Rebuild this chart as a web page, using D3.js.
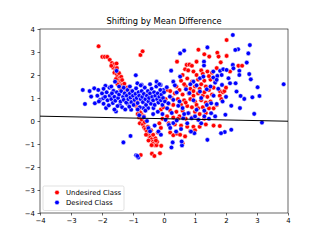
<!DOCTYPE html>
<html>
<head>
<meta charset="utf-8">
<script src="https://cdn.jsdelivr.net/npm/d3@7"></script>
<style>
  body { margin: 0; background: #fff; }
  svg { display: block; font-family: "DejaVu Sans", sans-serif; }
</style>
</head>
<body>
<svg id="chart" width="320" height="240"></svg>
<script>
// chart data
var title = 'Shifting by Mean Difference';
var xTicks = [-4, -3, -2, -1, 0, 1, 2, 3, 4];
var yTicks = [-4, -3, -2, -1, 0, 1, 2, 3, 4];
var seriesNames = ['Undesired Class', 'Desired Class'];
var seriesColors = ['#ff0000', '#0000ff'];

// boundary line end points
var boundaryLine = [[-4, 0.21], [4, -0.01]];

var undesiredPts = [
  // upper left arm
  [-2.11,3.25],[-1.99,2.79],[-1.91,2.79],[-1.83,2.79],[-1.75,2.66],[-1.68,2.52],[-1.6,2.47],[-1.53,2.5],
  [-1.64,2.32],[-1.57,2.2],[-1.6,2.1],[-1.52,2.02],[-1.5,1.92],[-1.45,1.85],[-1.47,1.75],[-1.4,1.7],
  [-1.42,1.6],[-1.36,1.55],[-1.3,1.5],[-1.33,1.42],[-1.25,1.35],[-1.2,1.25],[-1.15,1.15],[-1.1,1.05],
  [-1.05,0.95],[-1.0,0.85],[-0.95,0.75],[-0.9,0.65],[-0.85,0.55],[-0.8,0.45],[-0.75,0.35],[-0.7,0.25],
  [-0.76,2.87],[-0.69,3.03],[-1.26,1.43],[-0.5,1.2],[-0.2,0.9],[-0.85,0.3],[-0.65,0.2],
  [-1.7,2.4],[-1.52,2.3],[-1.45,2.08],[-1.38,1.92],[-1.55,1.82],[-1.35,1.78],[-1.28,1.62],[-1.5,1.6],
  [-1.18,1.45],[-1.4,1.38],[-1.12,1.3],[-0.98,1.05],[-0.9,0.9],
  // lower arm
  [-0.8,0.15],[-0.72,0.05],[-0.78,-0.1],[-0.68,-0.15],[-0.64,-0.28],[-0.6,-0.35],[-0.55,-0.45],[-0.5,-0.55],
  [-0.48,-0.65],[-0.44,-0.72],[-0.4,-0.8],[-0.36,-0.9],[-0.34,-0.98],[-0.3,-1.05],[-0.24,-1.05],[-0.22,-0.9],
  [-0.28,-0.75],[-0.09,-1.08],[-0.39,-1.42],[-0.31,-1.52],[-0.13,-1.4],[-0.75,-1.48],[-0.2,-0.5],[-0.1,-0.3],
  [-0.15,-0.1],[-0.05,0.1],[-0.1,0.5],[-0.02,0.6],
  [-0.62,-0.05],[-0.52,-0.25],[-0.42,-0.4],[-0.58,-0.6],[-0.35,-0.6],[-0.5,-0.85],[-0.26,-0.85],[-0.4,-1.05],
  // right cluster
  [0.42,2.58],[0.73,2.44],[0.82,2.45],[0.9,2.4],[1.05,2.58],[1.11,3.1],[1.3,2.9],[1.46,2.8],[1.72,2.97],
  [1.76,2.8],[1.83,2.55],[2.02,3.52],[2.02,2.83],[2.4,2.4],[2.52,2.4],[2.13,2.15],[0.68,2.25],[0.78,2.2],
  [0.95,2.15],[1.2,2.2],[1.4,2.15],[1.55,2.1],[1.25,2.05],[1.05,2.0],[0.6,2.0],[0.55,1.75],[0.75,1.85],
  [0.9,1.7],[1.1,1.8],[1.3,1.75],[1.5,1.8],[1.65,1.7],[0.4,1.5],[0.5,1.35],[0.7,1.5],[0.85,1.4],[1.0,1.5],
  [1.15,1.4],[1.35,1.5],[1.45,1.35],[1.6,1.45],[1.8,1.3],[1.9,1.25],[0.35,1.2],[0.6,1.15],[0.8,1.2],
  [0.95,1.1],[1.1,1.2],[1.25,1.1],[1.4,1.05],[1.55,1.15],[0.45,0.95],[0.65,0.9],[0.85,0.95],[1.0,0.85],
  [1.2,0.9],[1.35,0.8],[1.5,0.85],[0.3,0.7],[0.55,0.7],[0.75,0.65],[0.9,0.6],[1.05,0.7],[1.25,0.6],
  [1.45,0.55],[1.6,0.55],[0.2,0.45],[0.4,0.4],[0.6,0.45],[0.8,0.35],[1.0,0.4],[1.15,0.3],[1.35,0.35],
  [0.1,0.2],[0.3,0.15],[0.5,0.2],[0.7,0.1],[0.9,0.15],[1.1,0.05],[1.3,0.1],[0.15,-0.1],[0.35,-0.15],
  [0.55,-0.2],[0.75,-0.25],[0.95,-0.25],[1.15,-0.25],[1.35,-0.15],[1.6,-0.2],[1.8,-0.22],[0.2,-0.5],
  [0.3,-0.62],[0.42,-0.55],[0.52,-0.6],[0.68,-0.67],[0.6,-0.97],[0.85,-0.45],[1.0,-0.4],[1.8,1.1],
  [1.85,0.95],[1.7,0.7],[1.95,1.3],[2.0,1.45],[1.45,1.95],[1.7,2.3],[0.25,1.0],[0.15,0.75],[0.05,0.95],
  [0.1,1.35],[0.2,1.3],[0.65,1.6],[1.2,1.6],[0.95,1.3],[1.3,1.25],[0.7,0.8],[1.1,0.55],[0.45,0.1]
];

var desiredPts = [
  // left cluster edge
  [-2.62,1.35],[-2.55,0.74],[-2.35,1.06],[-2.25,1.42],[-2.12,1.35],[-2.23,0.77],[-2.06,0.92],[-1.96,0.99],
  [-1.87,0.56],[-1.89,1.53],[-1.76,1.45],[-1.63,1.31],[-1.58,1.71],[-1.53,2.18],[-1.55,0.41],[-1.42,0.7],
  [-1.17,0.74],[-1.06,0.49],[-0.91,1.99],[-0.86,1.64],[-0.72,1.57],[-0.67,0.56],[-0.51,0.56],[-0.34,0.56],
  [-0.24,1.71],[-0.11,1.57],[-0.02,1.35],[0.09,1.47],
  // left cluster interior
  [-2.15,1.1],[-2.1,0.85],[-2.0,1.2],[-1.95,0.75],[-1.9,1.05],[-1.85,1.25],[-1.82,0.9],[-1.78,0.68],
  [-1.75,1.1],[-1.7,0.95],[-1.68,1.2],[-1.65,0.78],[-1.6,1.05],[-1.57,0.88],[-1.52,1.25],[-1.5,0.65],
  [-1.48,1.0],[-1.45,1.15],[-1.4,0.85],[-1.38,1.3],[-1.35,0.6],[-1.32,1.05],[-1.3,0.92],[-1.27,1.2],
  [-1.22,0.8],[-1.2,1.1],[-1.18,1.35],[-1.15,0.95],[-1.12,0.62],[-1.1,1.2],[-1.08,1.02],[-1.05,0.82],
  [-1.02,1.3],[-1.0,1.1],[-0.98,0.7],[-0.95,0.92],[-0.92,1.18],[-0.9,1.42],[-0.88,1.0],[-0.85,0.78],
  [-0.82,1.25],[-0.8,1.1],[-0.78,0.6],[-0.75,0.95],[-0.72,1.3],[-0.7,1.05],[-0.68,0.82],[-0.65,1.18],
  [-0.62,1.45],[-0.6,0.95],[-0.58,0.7],[-0.55,1.1],[-0.52,1.3],[-0.5,0.85],[-0.48,1.0],[-0.45,1.2],
  [-0.42,0.75],[-0.4,1.4],[-0.38,1.05],[-0.35,0.9],[-0.32,1.25],[-0.3,0.7],[-0.28,1.1],[-0.25,1.5],
  [-0.22,0.95],[-0.2,1.2],[-0.18,0.8],[-0.15,1.05],[-0.12,1.35],[-0.1,0.9],[-0.08,1.15],[-0.05,0.7],
  [-0.03,1.0],[0.0,1.25],[0.03,0.85],[-0.6,0.45],[-0.85,0.5],[-1.25,0.5],[-1.6,0.5],[-2.4,1.3],
  [-1.95,1.4],[-1.45,1.5],[-1.1,1.5],[-0.75,1.55],[-0.45,1.6],[-0.15,1.6],[-1.3,1.45],[-1.7,1.5],
  // low outliers
  [-1.31,-0.93],[-1.08,-0.65],[-0.9,-1.49],[-0.83,-1.59],[-0.86,-1.52],[-0.5,-0.31],[-0.45,-0.45],
  [-0.65,0.17],[-0.18,-0.46],[-0.3,-0.2],[-0.1,-0.6],[-0.55,0.0],[-0.35,0.3],[-0.2,0.4],[-0.05,0.3],[-0.8,0.25],
  // right side
  [0.23,2.19],[0.52,2.94],[0.65,3.06],[0.52,1.93],[0.3,1.71],[1.29,2.58],[1.4,3.2],[1.29,2.41],[0.95,1.71],
  [1.16,1.86],[1.59,1.89],[1.72,1.96],[1.81,2.18],[1.91,2.25],[2.02,2.22],[2.22,3.74],[2.39,3.12],
  [2.3,3.09],[2.22,2.44],[2.24,2.29],[2.43,2.18],[2.43,2.0],[2.31,1.64],[2.34,1.28],[2.47,1.09],[2.59,0.96],
  [2.45,0.56],[2.17,0.66],[1.98,0.27],[1.89,0.85],[1.7,0.74],[2.67,2.54],[2.72,2.94],[2.77,3.3],
  [2.75,2.04],[2.8,1.81],[2.85,1.03],[2.91,0.31],[3.02,1.47],[3.08,1.09],[3.16,-0.07],[3.86,1.6],
  [2.17,-0.38],[1.96,-0.48],[1.84,-0.53],[1.4,-0.82],[0.98,-0.53],[0.87,-0.46],[0.58,-1.06],[0.57,-0.89],
  [0.24,-1.15],[0.28,-0.93],[0.39,-0.46],[0.16,-0.17],[0.3,-0.09],[0.41,0.02],[0.62,0.12],[0.89,0.12],
  [1.11,0.05],[1.3,0.2],[1.52,0.34],[1.52,0.77],[1.38,0.7],[1.05,0.49],[0.78,0.34],[0.6,0.56],[0.46,0.66],
  [0.3,0.92],[0.19,1.06],[0.14,0.77],[0.41,1.24],[0.71,1.38],[0.82,1.21],[1.16,1.28],[1.38,1.38],
  [1.5,1.5],[1.65,1.67],[1.27,1.93],[1.59,2.15],[1.7,1.79],[1.86,2.0],[1.87,1.57],[2.08,1.86],[2.13,1.64],
  [0.1,0.55],[0.25,0.35],[0.05,0.05],[0.5,0.85],[0.95,0.9],[1.2,1.0],[0.65,0.3],[1.0,0.2],[1.45,0.1],
  [0.35,1.55],[0.85,1.6],[1.05,1.55],[1.6,1.1],[1.75,1.4],[2.0,1.05],[1.3,0.45],[0.75,-0.1],[0.2,-0.3],
  [0.55,-0.35],[1.2,-0.1],[1.65,0.2]
];

var svg = d3.select('#chart');
var margin = {left: 40, right: 32, top: 29, bottom: 27};
var width = 320 - margin.left - margin.right,
    height = 240 - margin.top - margin.bottom;

var x = d3.scaleLinear().domain([-4, 4]).range([0, width]);
var y = d3.scaleLinear().domain([-4, 4]).range([height, 0]);

var g = svg.append('g')
    .attr('transform', 'translate(' + margin.left + ',' + margin.top + ')');

// clip for the marks
g.append('clipPath').attr('id', 'plotClip')
    .append('rect').attr('width', width).attr('height', height);

var plot = g.append('g').attr('clip-path', 'url(#plotClip)');

var series = [undesiredPts, desiredPts];
series.forEach(function (pts, i) {
    plot.selectAll('.pt' + i)
        .data(pts)
        .enter().append('circle')
        .attr('class', 'pt' + i)
        .attr('cx', function (d) { return x(d[0]) })
        .attr('cy', function (d) { return y(d[1]) })
        .attr('r', 2.3)
        .style('fill', seriesColors[i])
        .style('stroke', '#fff')
        .style('stroke-width', 0.5);
});

plot.append('path')
    .datum(boundaryLine)
    .attr('d', d3.line().x(function (d) { return x(d[0]) }).y(function (d) { return y(d[1]) }))
    .style('fill', 'none')
    .style('stroke', '#000')
    .style('stroke-width', 1);

// axes
var xAxis = g.append('g')
    .attr('transform', 'translate(0,' + height + ')')
    .call(d3.axisBottom(x).tickValues(xTicks).tickSizeOuter(0).tickSize(2.5).tickPadding(2.5));
var yAxis = g.append('g')
    .call(d3.axisLeft(y).tickValues(yTicks).tickSizeOuter(0).tickSize(2.5).tickPadding(2.5));

[xAxis, yAxis].forEach(function (ax) {
    ax.selectAll('text').style('font-size', '6.9px').style('fill', '#000')
        .style('font-family', '"DejaVu Sans", sans-serif');
    ax.selectAll('line').style('stroke', '#000').style('stroke-width', 0.6);
    ax.select('.domain').remove();
});

// frame
g.append('rect')
    .attr('width', width).attr('height', height)
    .style('fill', 'none').style('stroke', '#000').style('stroke-width', 0.6);

// title
svg.append('text')
    .attr('x', margin.left + width / 2)
    .attr('y', margin.top - 5)
    .attr('text-anchor', 'middle')
    .style('font-size', '8.3px')
    .text(title);

// legend
var legend = g.append('g').attr('transform', 'translate(3,' + (height - 27) + ')');
legend.append('rect')
    .attr('width', 81).attr('height', 24.5).attr('rx', 1.5)
    .style('fill', '#fff').style('fill-opacity', 0.8)
    .style('stroke', '#ccc').style('stroke-width', 0.6);
seriesNames.forEach(function (name, i) {
    var row = legend.append('g').attr('transform', 'translate(0,' + (6.5 + i * 10) + ')');
    row.append('circle').attr('cx', 14).attr('cy', 0).attr('r', 2.3)
        .style('fill', seriesColors[i]).style('stroke', '#fff').style('stroke-width', 0.5);
    row.append('text').attr('x', 23).attr('y', 2.4)
        .style('font-size', '6.9px').text(name);
});
</script>
</body>
</html>
